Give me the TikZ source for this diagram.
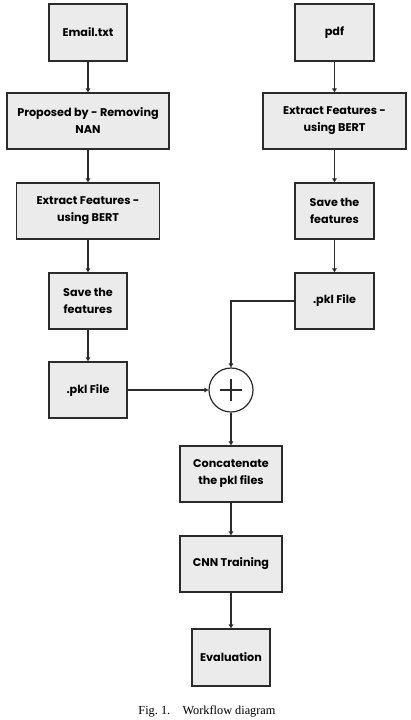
\documentclass[tikz,border=0pt]{standalone}
\usepackage{fontspec}
\setmainfont{Liberation Serif}
\newfontfamily\boxfont{Poppins}[UprightFont=* SemiBold,BoldFont=* Bold]
\usetikzlibrary{arrows.meta}
\definecolor{boxfill}{HTML}{EBEBEB}
\definecolor{edge}{HTML}{2B2B2B}
\begin{document}
\begin{tikzpicture}[x=1pt,y=-1pt,
  stepbox/.style={draw=edge,line width=1.4pt,fill=boxfill,align=center,
    font=\boxfont\bfseries\fontsize{11.2}{17}\selectfont,inner sep=0pt},
  conn/.style={draw=edge,line width=1.1pt,-{Triangle[length=4pt,width=4.5pt]}}]
\useasboundingbox[fill=white] (0,0) rectangle (411,720);
% left column
\node[stepbox,minimum width=78pt,minimum height=57pt] (email) at (88,32.5) {Email.txt};
\node[stepbox,minimum width=162pt,minimum height=56pt] (prop) at (88,121) {Proposed by - Removing\\NAN};
\node[stepbox,minimum width=143pt,minimum height=56pt] (extl) at (88,211) {Extract Features -\\using BERT};
\node[stepbox,minimum width=78pt,minimum height=56pt] (savel) at (88,301) {Save the\\features};
\node[stepbox,minimum width=78pt,minimum height=56pt] (pkll) at (88,390) {.pkl File};
% right column
\node[stepbox,minimum width=79pt,minimum height=57pt] (pdf) at (334.5,32.5) {pdf};
\node[stepbox,minimum width=143pt,minimum height=56pt] (extr) at (334.5,121) {Extract Features -\\using BERT};
\node[stepbox,minimum width=79pt,minimum height=56pt] (saver) at (334.5,211) {Save the\\features};
\node[stepbox,minimum width=79pt,minimum height=56pt] (pklr) at (334.5,301) {.pkl File};
% merge
\node[circle,draw=edge,line width=1.2pt,fill=white,minimum size=44pt,inner sep=0pt] (plus) at (231,390) {};
\draw[edge,line width=1.1pt] ([xshift=-11pt]plus.center) -- ([xshift=11pt]plus.center)
  ([yshift=-11pt]plus.center) -- ([yshift=11pt]plus.center);
\node[stepbox,minimum width=102pt,minimum height=56pt] (conc) at (231,474) {Concatenate\\the pkl files};
\node[stepbox,minimum width=102pt,minimum height=56pt] (cnn) at (231,564) {CNN Training};
\node[stepbox,minimum width=78pt,minimum height=57pt] (eval) at (231,657.5) {Evaluation};
% caption
\node[font=\fontsize{12.3}{14}\selectfont,inner sep=0pt] (cap) at (207,711) {Fig.~1.\quad Workflow diagram};
% connectors
\draw[conn] (email) -- (prop);
\draw[conn] (prop) -- (extl);
\draw[conn] (extl) -- (savel);
\draw[conn] (savel) -- (pkll);
\draw[conn] (pdf) -- (extr);
\draw[conn] (extr) -- (saver);
\draw[conn] (saver) -- (pklr);
\draw[conn] (pkll) -- (plus);
\draw[conn] (pklr.west) -| (plus.north);
\draw[conn] (plus) -- (conc);
\draw[conn] (conc) -- (cnn);
\draw[conn] (cnn) -- (eval);
\end{tikzpicture}
\end{document}
